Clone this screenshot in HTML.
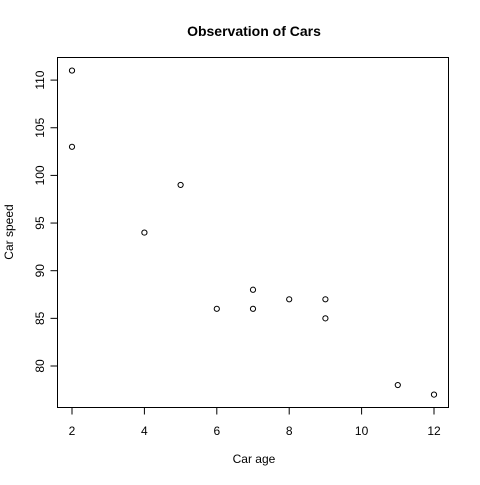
<!DOCTYPE html>
<html><head><meta charset="utf-8"><style>
body{margin:0;background:#fff}
svg text{font-family:"Liberation Sans",Arial,sans-serif;fill:#000}
</style></head><body>
<svg width="480" height="480">
<rect width="480" height="480" fill="#fff"/>
<text x="254" y="36" text-anchor="middle" font-weight="bold" font-size="14">Observation of Cars</text>
<text x="254" y="463" text-anchor="middle" font-size="12">Car age</text>
<text transform="translate(13,232) rotate(-90)" text-anchor="middle" font-size="12">Car speed</text>
<rect x="57.5" y="57.5" width="391" height="350" fill="none" stroke="#000"/>
<g id="axes"></g><g id="pts"></g>
</svg>
<script>
const carAge=[5,7,8,7,2,2,9,4,11,12,9,6];
const carSpeed=[99,86,87,88,111,103,87,94,78,77,85,86];
const xTicks=[2,4,6,8,10,12];
const yTicks=[80,85,90,95,100,105,110];
const NS="http://www.w3.org/2000/svg";
const sx=v=>72+(v-2)*36.2;
const sy=v=>366-(v-80)*9.53;
const ax=document.getElementById('axes'),pg=document.getElementById('pts');
function mk(t,a){const e=document.createElementNS(NS,t);for(const k in a)e.setAttribute(k,a[k]);return e;}
const xa=mk('line',{x1:sx(xTicks[0]),x2:sx(xTicks[xTicks.length-1]),y1:407.5,y2:407.5,stroke:'#000'});


ax.appendChild(xa);
xTicks.forEach(v=>{
 const l=mk('line',{x1:sx(v),x2:sx(v),y1:407.5,y2:414.5,stroke:'#000'});
 
 
 ax.appendChild(l);
 const t=mk('text',{x:sx(v),y:435,'text-anchor':'middle','font-size':12});
 t.textContent=v;
 
 
 ax.appendChild(t);
});
const ya=mk('line',{x1:57.5,x2:57.5,y1:sy(yTicks[0]),y2:sy(yTicks[yTicks.length-1]),stroke:'#000'});


ax.appendChild(ya);
yTicks.forEach(v=>{
 const l=mk('line',{x1:50.5,x2:57.5,y1:sy(v),y2:sy(v),stroke:'#000'});
 
 
 ax.appendChild(l);
 const t=mk('text',{transform:`translate(44,${sy(v)}) rotate(-90)`,'text-anchor':'middle','font-size':12});
 t.textContent=v;
 
 
 ax.appendChild(t);
});
carAge.forEach((x,i)=>{
 const c=mk('circle',{cx:sx(x),cy:sy(carSpeed[i]),r:2.6,fill:'none',stroke:'#000','stroke-width':1});
 
 
 pg.appendChild(c);
});
</script>
</body></html>
